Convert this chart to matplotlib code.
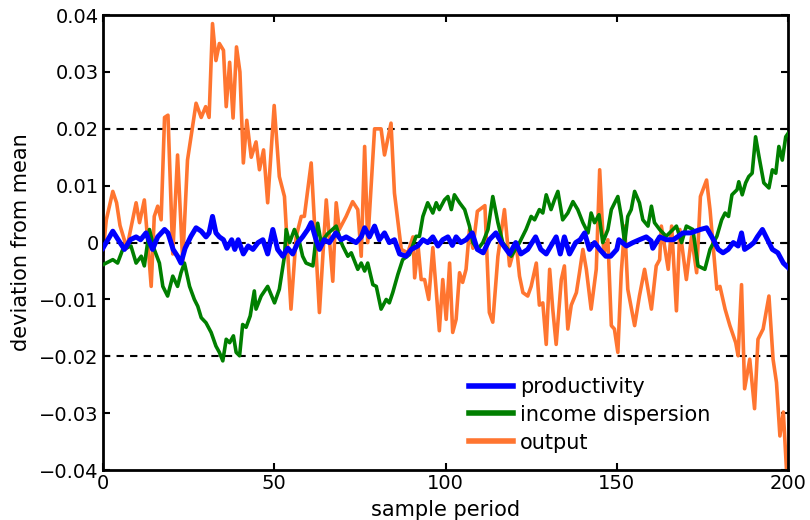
import matplotlib
matplotlib.use('Agg')
import matplotlib.pyplot as plt

# values (sample period, deviation)
prod_t = [0, 2.9, 5, 6.3, 8, 9.7, 11, 12.6, 14.5, 16, 18, 19, 20.5, 21.8, 22.8, 24, 25.7, 27.2,
          28.7, 30.1, 31, 32, 33, 34, 35.2, 36.2, 37.6, 38.5, 39.5, 41, 42.4, 43.8, 45.3, 46.7,
          48.1, 49.6, 51, 52.5, 54, 55.4, 56.9, 58.3, 59.8, 60.8, 62.2, 63.2, 64.6, 66.1, 68,
          69.5, 71, 72.4, 73.9, 75.4, 76.4, 77.8, 79.3, 80.7, 82.2, 83.6, 85.1, 86.6, 88.5, 90,
          91.9, 93.4, 94.8, 96.3, 97.8, 99.2, 100.7, 102, 103.1, 104.5, 106, 107.8, 109.3, 111,
          112.8, 114.7, 116.3, 118.7, 120.5, 122, 124, 126.3, 127.8, 129.4, 132.3, 133.5, 134.7,
          136.2, 138, 139.3, 140.6, 142, 143.5, 145, 146.8, 148.2, 150, 150.6, 152.8, 154.7,
          156.6, 158.6, 160, 160.5, 162.5, 164.5, 166.5, 169.3, 171.5, 174.4, 176.2, 178.2,
          179.6, 181, 182.5, 184, 185.4, 186.4, 187.3, 188.8, 190, 191, 192.5, 194, 195.4, 197,
          198.6, 200]
prod_v = [-0.001, 0.002, 0.0, -0.0012, 0.0005, 0.001, 0.0005, 0.0017, -0.0012, 0.001, 0.0023,
          0.0017, -0.0012, -0.0024, -0.0036, -0.001, 0.0011, 0.0026, 0.002, 0.001, 0.0017,
          0.0046, 0.0017, 0.001, 0.0005, -0.001, 0.0005, -0.0012, 0.0005, -0.002, -0.0006,
          -0.0012, 0.0, 0.0005, -0.002, 0.0023, -0.0012, -0.0024, -0.001, -0.002, 0.0, 0.001,
          0.0023, 0.0035, 0.0005, -0.0012, 0.0005, 0.0, 0.0017, 0.0005, 0.001, 0.0005, 0.0,
          0.001, 0.0026, 0.001, 0.0029, 0.0005, 0.0017, 0.0, 0.0005, -0.002, -0.0024, -0.0012,
          -0.0006, 0.0005, 0.0, 0.001, -0.0006, 0.0005, 0.001, -0.0005, 0.001, 0.0, 0.0005,
          0.0017, -0.0012, -0.0018, 0.0005, 0.0017, 0.0, -0.002, 0.0, -0.002, -0.0012, 0.001,
          -0.0012, -0.002, 0.001, -0.002, 0.001, -0.002, 0.0, 0.0005, 0.0017, -0.0012, 0.0,
          -0.0012, -0.0024, -0.0024, -0.0012, 0.0005, -0.0006, 0.0, 0.0005, 0.001, 0.0003,
          -0.001, 0.001, 0.0005, 0.0005, 0.0017, 0.0017, 0.0023, 0.0026, 0.0005, -0.0012,
          -0.0018, -0.0012, 0.0, -0.0006, 0.0017, -0.0012, -0.0006, 0.0, 0.001, 0.0023, 0.0005,
          -0.0012, -0.0018, -0.0036, -0.0044]

disp_t = [0, 2.9, 4.3, 5.8, 8.2, 9.7, 11.2, 12.1, 13.6, 15, 16.5, 17.5, 18.9, 20.4, 21.8, 22.8,
          23.8, 25.3, 26.7, 27.7, 28.7, 30.1, 31.6, 33, 34, 35, 36, 37, 38.1, 38.9, 39.9, 40.8,
          41.8, 43, 44.2, 44.7, 46.2, 48.1, 50.1, 51.5, 53, 53.5, 54.5, 55.9, 57.4, 58.3, 59.3,
          61.3, 62.7, 63.7, 65.5, 68.1, 69.6, 70, 71.5, 72.5, 74.4, 75.4, 76.4, 77.3, 78.8,
          79.8, 81.2, 82.7, 83.6, 84.6, 86.1, 87.5, 89.5, 91.4, 92.4, 93.4, 94.8, 96.3, 97.3,
          98.2, 99.7, 100.7, 101.7, 102.6, 104.1, 105.6, 107, 108, 109.4, 110.9, 112.4, 113.8,
          115.3, 116.7, 118.2, 119.2, 121.6, 123.5, 125, 126, 127.4, 128.4, 129.4, 130.8,
          131.8, 132.8, 134.2, 135.7, 137.2, 138.6, 140.1, 141.6, 142.5, 143.5, 144.8, 145.9,
          147.4, 148.4, 150.3, 151.3, 152.3, 153.2, 154.2, 155.2, 156.6, 157.6, 159.1, 160.1,
          161, 162.5, 164.4, 167.4, 168.9, 170.3, 172.2, 173.7, 175.7, 177.2, 179.2, 180.6,
          181.6, 182.6, 183.6, 185.1, 185.6, 186.6, 187.6, 188.5, 189.5, 190.5, 191.5, 192.9,
          194.4, 195.4, 196.4, 197.3, 198.3, 199.3, 200]
disp_v = [-0.0039, -0.003, -0.0036, -0.0012, -0.0006, -0.0036, -0.0024, -0.0041, 0.0023,
          -0.0012, -0.0036, -0.0077, -0.0094, -0.0059, -0.0077, -0.0053, -0.0036, -0.0077,
          -0.010, -0.0112, -0.0132, -0.0141, -0.0158, -0.0182, -0.0193, -0.0208, -0.017,
          -0.0176, -0.0164, -0.0193, -0.0199, -0.0144, -0.0149, -0.0129, -0.0085, -0.0117,
          -0.0094, -0.0077, -0.0106, -0.0082, -0.0024, 0.0023, 0.0, 0.0023, 0.0, -0.0024,
          -0.0036, -0.0041, 0.0034, 0.0, 0.0015, 0.0029, 0.0, -0.0006, -0.0024, -0.0018,
          -0.0047, -0.0036, -0.005, -0.0036, -0.0074, -0.0077, -0.0117, -0.010, -0.0106,
          -0.0088, -0.0056, -0.003, -0.0021, 0.0011, 0.0011, 0.0046, 0.007, 0.0052, 0.007,
          0.0058, 0.0075, 0.0081, 0.0058, 0.0084, 0.007, 0.0058, 0.0029, 0.0, -0.0012, 0.0,
          0.0023, 0.0081, 0.0035, 0.0, -0.0012, -0.0024, 0.0, 0.0023, 0.0046, 0.004, 0.0058,
          0.0052, 0.0084, 0.0058, 0.0075, 0.009, 0.004, 0.0052, 0.0072, 0.0058, 0.0035,
          0.0017, 0.0052, 0.0035, 0.0049, 0.0, 0.0023, 0.0058, 0.0081, 0.0046, 0.0, 0.0046,
          0.0058, 0.009, 0.007, 0.004, 0.0029, 0.0064, 0.0035, 0.0023, 0.0011, 0.0029, 0.0,
          0.0029, 0.0023, -0.0041, -0.0047, -0.0012, 0.0011, 0.004, 0.0052, 0.0046, 0.0084,
          0.0093, 0.0107, 0.0084, 0.0105, 0.0116, 0.0122, 0.0186, 0.0151, 0.0105, 0.0096,
          0.0128, 0.0122, 0.0169, 0.0145, 0.0186, 0.0192]

out_t = [0, 1, 2.9, 4, 5, 7, 8, 9.7, 10.7, 12.1, 13, 14.1, 15, 16, 17, 18, 19, 20.4, 21.8, 23.3,
         24.7, 27.2, 28.7, 30, 31, 32, 33, 34, 35.2, 36, 37, 38, 39, 40, 41, 42, 43.3, 44.7,
         45.7, 46.9, 48.1, 50, 51.5, 53, 54.9, 56.4, 57.9, 58.8, 60.8, 63.2, 65.2, 67.1, 68.1,
         69, 71, 72.9, 74.4, 75.4, 76.4, 77.3, 79.3, 81.2, 82.2, 84.1, 85.1, 87.1, 89, 90.5,
         91, 92, 92.9, 93.9, 95.1, 96.3, 98.2, 99.2, 100.2, 101.2, 102.1, 103.1, 104.1, 105,
         106, 107, 108, 109.3, 111.5, 112.8, 113.8, 115.3, 117.2, 118.7, 120.6, 121.6, 122.6,
         124, 125, 126.5, 127.4, 128.4, 129.4, 130.4, 131.3, 132.3, 133.8, 134.7, 135.7, 136.7,
         138.2, 139.1, 140.1, 141.1, 142.5, 144, 145, 146.2, 147.4, 148.4, 149.3, 150.3, 151.3,
         152.3, 153.2, 155.2, 156.6, 158.1, 160.1, 161.5, 162.5, 163, 165, 166, 167.4, 168.4,
         170.3, 171.8, 173.3, 174.4, 176.2, 177.2, 178.2, 179.2, 180.1, 181.6, 183, 184.7,
         185.4, 186.4, 187.3, 188.8, 190.2, 191.2, 192.7, 194.4, 195.6, 196.6, 197.6, 198.6,
         199.5, 200]
out_v = [-0.002, 0.004, 0.009, 0.007, 0.003, -0.001, 0.002, 0.007, 0.0035, 0.0075, 0.001,
         -0.0077, 0.0046, 0.0064, 0.004, 0.022, 0.0224, -0.002, 0.0154, -0.0033, 0.0145,
         0.0245, 0.022, 0.0239, 0.022, 0.0385, 0.032, 0.035, 0.0338, 0.0239, 0.0317, 0.0219,
         0.0344, 0.030, 0.014, 0.0215, 0.015, 0.0177, 0.0128, 0.0163, 0.007, 0.0241, 0.0116,
         0.0081, -0.0117, 0.001, 0.0046, 0.0046, 0.014, -0.0123, 0.0075, -0.0068, 0.007,
         0.0023, 0.0046, 0.0072, 0.0058, -0.0024, 0.0169, 0.0, 0.020, 0.020, 0.0154, 0.021,
         0.0087, -0.0012, -0.0018, 0.001, -0.0062, -0.0006, -0.0065, -0.0065, -0.010,
         -0.0009, -0.0155, -0.0065, -0.0135, -0.0036, -0.0158, -0.0135, -0.0053, -0.007,
         -0.0047, 0.0023, -0.001, 0.0055, 0.0065, -0.0123, -0.014, -0.0024, 0.0058, -0.0041,
         0.0, -0.0059, -0.0088, -0.0094, -0.0077, -0.0036, -0.011, -0.0106, -0.0179, -0.0047,
         -0.0117, -0.0179, -0.0065, -0.0041, -0.0152, -0.011, -0.0088, -0.0053, -0.0012,
         -0.0047, -0.0117, -0.0047, 0.0128, -0.002, 0.0005, -0.0146, -0.0152, -0.0193,
         -0.0053, 0.0029, -0.0082, -0.0146, -0.0094, -0.0047, -0.0117, -0.0041, -0.003,
         0.0029, -0.0047, 0.0029, -0.012, 0.0023, -0.0065, 0.001, -0.0053, 0.0081, 0.011,
         0.0058, -0.0012, -0.0082, -0.0077, -0.0117, -0.0146, -0.0176, -0.0199, -0.0074,
         -0.0257, -0.0205, -0.0292, -0.017, -0.0152, -0.0094, -0.0205, -0.0246, -0.034,
         -0.0298, -0.0397, -0.04]

xticks = [0, 50, 100, 150, 200]
yticks = [-0.04, -0.03, -0.02, -0.01, 0, 0.01, 0.02, 0.03, 0.04]
yticklabels = ['\u22120.04', '\u22120.03', '\u22120.02', '\u22120.01', '0',
               '0.01', '0.02', '0.03', '0.04']
ref_levels = [0.02, 0, -0.02]

plt.rcParams['font.family'] = ['DejaVu Sans']

fig = plt.figure(figsize=(8.1, 5.2), dpi=100)
ax = fig.add_axes([0.127, 0.096, 0.846, 0.875])

for lv in ref_levels:
    ax.axhline(lv, color='black', linestyle=(0, (3.5, 3)), linewidth=1.5, zorder=1)

ax.plot(prod_t, prod_v, color='#0000ff', linewidth=3.6, label='productivity', zorder=4)
ax.plot(disp_t, disp_v, color='#007f00', linewidth=2.6, label='income dispersion', zorder=3)
ax.plot(out_t, out_v, color='#ff7530', linewidth=2.6, label='output', zorder=2)

ax.set_xlim(0, 200)
ax.set_ylim(-0.04, 0.04)
ax.set_xticks(xticks)
ax.set_yticks(yticks)
ax.set_yticklabels(yticklabels)
ax.tick_params(direction='in', length=5, width=1.5, top=True, right=True,
               labelsize=14, pad=3)
for s in ax.spines.values():
    s.set_linewidth(2)

ax.set_xlabel('sample period', fontsize=15, labelpad=5)
ax.set_ylabel('deviation from mean', fontsize=15, labelpad=6)

leg = ax.legend(loc='upper left', bbox_to_anchor=(0.534, 0.205), frameon=False,
                borderpad=0, borderaxespad=0, fontsize=15, handlelength=2.1,
                labelspacing=0.38, handletextpad=0.35)
for line in leg.get_lines():
    line.set_linewidth(4)

fig.savefig('out.png', dpi=100)
